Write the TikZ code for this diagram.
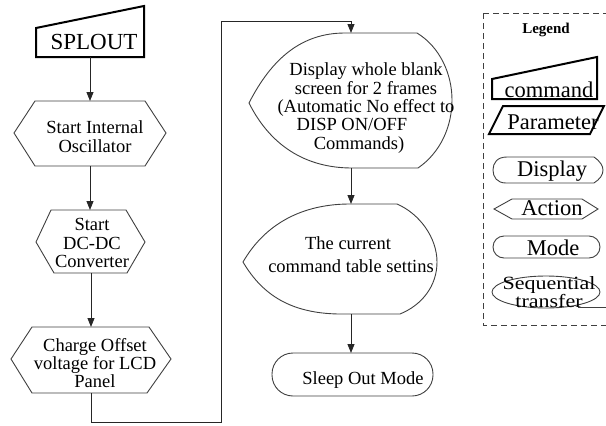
\documentclass[tikz,border=0pt]{standalone}
\usepackage{fontspec}
\setmainfont{Liberation Serif}
\usetikzlibrary{arrows.meta}
\begin{document}
\begin{tikzpicture}[x=1pt,y=-1pt,
  outline/.style={draw=black!75, line width=0.9pt, fill=white, line join=miter},
  thickoutline/.style={draw=black, line width=2pt, line join=miter, fill=white},
  conn/.style={draw=black!85, line width=0.9pt, line join=miter},
  arr/.style={conn, -{Triangle[length=9pt,width=7pt]}},
  txt/.style={font=\fontsize{18.5}{18.4}\selectfont, align=center, inner sep=0pt},
  lgtxt/.style={font=\fontsize{22.5}{22.5}\selectfont, align=center, inner sep=0pt},
  legendbox/.style={draw=black!75, line width=0.9pt, dash pattern=on 6pt off 4pt},
]
\useasboundingbox (0,0) rectangle (606,426);

% ---------- left column ----------
\draw[thickoutline] (36,28) -- (144,6) -- (144,57) -- (36,57) -- cycle;
\node[txt, font=\fontsize{23}{23}\selectfont] (splout) at (94,41.5) {SPLOUT};
\coordinate (splout-s) at (90,57);

\draw[outline] (14,133) -- (35,101) -- (145,101) -- (166,133) -- (145,166) -- (35,166) -- cycle;
\node[txt] (osc) at (95,136.5) {Start Internal\\Oscillator};
\coordinate (osc-n) at (90,101);
\coordinate (osc-s) at (90,166);

\draw[outline] (36,242) -- (51,210) -- (126,210) -- (145,242) -- (127,273) -- (54,273) -- cycle;
\node[txt] (dcdc) at (92,243) {Start\\DC-DC\\Converter};
\coordinate (dcdc-n) at (90,210);
\coordinate (dcdc-s) at (91,273);

\draw[outline] (11,359) -- (32,327) -- (149,327) -- (171,359) -- (147,393) -- (32,393) -- cycle;
\node[txt] (chg) at (95,363) {Charge Offset\\voltage for LCD\\Panel};
\coordinate (chg-n) at (91,327);
\coordinate (chg-s) at (91,393);

\draw[arr] (splout-s) -- (osc-n);
\draw[arr] (osc-s) -- (dcdc-n);
\draw[arr] (dcdc-s) -- (chg-n);

% ---------- loop connector ----------
\coordinate (b1) at (91,422);
\coordinate (b2) at (221,422);
\coordinate (b3) at (221,21);
\coordinate (b4) at (351,21);
\coordinate (disp1-n) at (351,33);
\draw[arr] (chg-s) -- (b1) -- (b2) -- (b3) -- (b4) -- (disp1-n);

% ---------- middle column ----------
\draw[outline] (249,103) .. controls (272,58) and (302,33) .. (345,33) -- (417,33)
  .. controls (440,47) and (452,74) .. (452,100)
  .. controls (452,127) and (440,153) .. (418,168) -- (352,168)
  .. controls (305,168) and (270,145) .. (249,103) -- cycle;
\node[txt] (disp1) at (366,108) {Display whole blank\\screen for 2 frames\\(Automatic No effect to\\DISP ON/OFF\rule{28pt}{0pt}\\Commands)\rule{14pt}{0pt}};
\coordinate (disp1-s) at (351,168);

\draw[outline] (243,262) .. controls (265,224) and (302,204) .. (350,204) -- (397,204)
  .. controls (420,214) and (437,238) .. (437,262)
  .. controls (437,286) and (422,305) .. (400,314) -- (338,314)
  .. controls (292,313) and (263,296) .. (243,262) -- cycle;
\node[txt, font=\fontsize{18.5}{23}\selectfont] (cur) at (351,255) {The current\rule{6pt}{0pt}\\command table settins};
\coordinate (cur-n) at (351,204);
\coordinate (cur-s) at (351,314);

\draw[outline, rounded corners=21pt] (272,353) rectangle (433,396);
\node[txt] (sleep) at (363,380.5) {Sleep Out Mode};
\coordinate (sleep-n) at (351,353);

\draw[arr] (disp1-s) -- (cur-n);
\draw[arr] (cur-s) -- (sleep-n);

% ---------- legend ----------
\draw[legendbox] (483,13) -- (620,13);
\draw[legendbox] (483,13) -- (483,325) -- (620,325);
\node[inner sep=0pt, font=\fontsize{15}{15}\selectfont\bfseries] (lg) at (546,30) {Legend};

\draw[thickoutline] (492,79) -- (597,57) -- (597,99) -- (492,99) -- cycle;
\node[lgtxt] (lcmd) at (549,89.5) {command};

\draw[thickoutline] (489,134) -- (503,106) -- (604,106) -- (590,134) -- cycle;
\node[lgtxt] (lpar) at (553,122) {Parameter};

\draw[outline] (507,157) -- (594,157) .. controls (600,161) and (603,166) .. (603,170)
  .. controls (603,175) and (600,179) .. (594,183) -- (506,183)
  .. controls (497,183) and (493,177) .. (493,170)
  .. controls (493,163) and (497,157) .. (507,157) -- cycle;
\node[lgtxt] (ldisp) at (552,171.5) {Display};

\draw[outline] (494,209) -- (512,199) -- (582,199) -- (598,209) -- (582,219) -- (512,219) -- cycle;
\node[lgtxt] (lact) at (552,208) {Action};

\draw[outline, rounded corners=11pt] (493,236) rectangle (600,258);
\node[lgtxt] (lmode) at (553,247.5) {Mode};

\draw[outline] (546,292) ellipse [x radius=54pt, y radius=16pt];
\draw[outline] (578,307.5) -- (610,307.5);
\node[lgtxt, font=\fontsize{22}{15}\selectfont, yscale=0.85, transform shape] (lseq) at (549,292) {Sequential\\transfer};
\end{tikzpicture}
\end{document}
